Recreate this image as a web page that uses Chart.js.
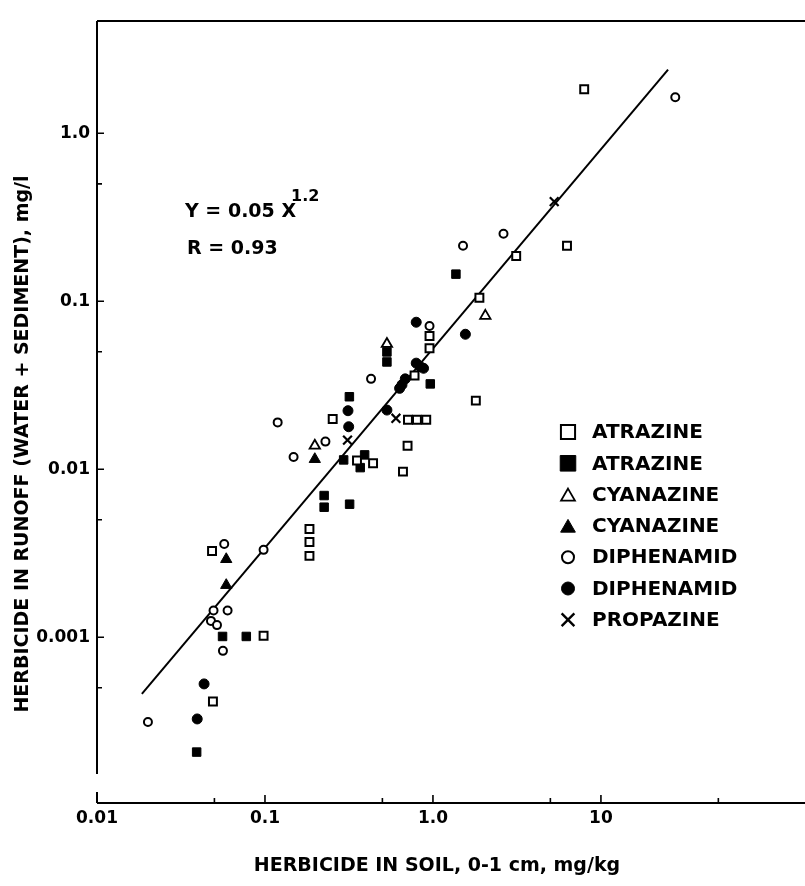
<!DOCTYPE html>
<html>
<head>
<meta charset="utf-8">
<script src="https://cdn.jsdelivr.net/npm/chart.js@4/dist/chart.umd.min.js"></script>
<style>
  html, body { margin: 0; padding: 0; background: #fff; }
  #wrap { width: 805px; height: 886px; position: relative; }
</style>
</head>
<body>
<div id="wrap"><canvas id="c" width="805" height="886"></canvas></div>
<script>
// Herbicide in runoff vs herbicide in soil (log-log)

const seriesNames = ['ATRAZINE', 'ATRAZINE', 'CYANAZINE', 'CYANAZINE', 'DIPHENAMID', 'DIPHENAMID', 'PROPAZINE'];

// Atrazine, open squares
const atrazineOpenX = [0.0484, 0.0981, 0.0490, 0.253, 0.353, 0.440, 0.184, 0.184, 0.184, 0.954, 0.954, 0.777, 1.80, 0.710, 0.803, 0.912, 0.706, 0.663, 7.95, 6.28, 3.13, 1.89];
const atrazineOpenY = [0.00326, 0.00102, 0.000414, 0.0199, 0.01126, 0.01086, 0.00441, 0.00369, 0.00305, 0.0621, 0.0525, 0.0361, 0.0256, 0.0197, 0.0197, 0.0197, 0.0138, 0.00968, 1.83, 0.214, 0.186, 0.105];

// Atrazine, filled squares
const atrazineFillX = [0.0559, 0.0774, 0.0392, 0.318, 0.294, 0.392, 0.369, 0.225, 0.225, 0.319, 0.532, 0.532, 1.37, 0.964];
const atrazineFillY = [0.00101, 0.00101, 0.000207, 0.0270, 0.01136, 0.01217, 0.01022, 0.00697, 0.00594, 0.00619, 0.0499, 0.0435, 0.145, 0.0322];

// Cyanazine, open triangles
const cyanazineOpenX = [0.198, 0.532, 2.05];
const cyanazineOpenY = [0.0138, 0.0557, 0.0818];

// Cyanazine, filled triangles
const cyanazineFillX = [0.0588, 0.0588, 0.198];
const cyanazineFillY = [0.00291, 0.00204, 0.01147];

// Diphenamid, open circles
const diphenamidOpenX = [0.0572, 0.0981, 0.0494, 0.0599, 0.0477, 0.0518, 0.0562, 0.0201, 0.119, 0.229, 0.148, 0.428, 0.954, 27.7, 2.63, 1.51];
const diphenamidOpenY = [0.00359, 0.00331, 0.00144, 0.00144, 0.00125, 0.00118, 0.000829, 0.000313, 0.0190, 0.0146, 0.01183, 0.0345, 0.0713, 1.64, 0.252, 0.214];

// Diphenamid, filled circles
const diphenamidFillX = [0.0434, 0.0395, 0.312, 0.315, 0.795, 1.56, 0.795, 0.840, 0.879, 0.684, 0.654, 0.633, 0.532];
const diphenamidFillY = [0.000527, 0.000326, 0.0223, 0.0179, 0.0750, 0.0636, 0.0428, 0.0408, 0.0399, 0.0345, 0.0318, 0.0303, 0.0225];

// Propazine, crosses
const propazineX = [0.310, 0.602, 5.27];
const propazineY = [0.0149, 0.0201, 0.392];

// Regression line end points: Y = 0.05 X^1.2
const fitX = [0.0185, 25.1];
const fitY = [0.00046, 2.39];

// Axis ticks
const xMajorTicks = [0.01, 0.1, 1, 10];
const xMajorLabels = ['0.01', '0.1', '1.0', '10'];
const xMinorTicks = [0.05, 0.5, 5, 50];
const yMajorTicks = [0.001, 0.01, 0.1, 1];
const yMajorLabels = ['0.001', '0.01', '0.1', '1.0'];
const yMinorTicks = [0.0005, 0.005, 0.05, 0.5];

const xTitle = 'HERBICIDE IN SOIL, 0-1 cm, mg/kg';
const yTitle = 'HERBICIDE IN RUNOFF (WATER + SEDIMENT), mg/l';
const eqMain = 'Y = 0.05 X';
const eqPower = '1.2';
const eqR = 'R = 0.93';

const FONT = '"DejaVu Sans", "Liberation Sans", sans-serif';

function pts(xs, ys) { return xs.map((x, i) => ({ x: x, y: ys[i] })); }

const markerStyles = [
  { pointStyle: 'rect', radius: 5.6, fill: '#fff', border: 2 },
  { pointStyle: 'rect', radius: 6.0, fill: '#000', border: 1 },
  { pointStyle: 'triangle', radius: 6.0, fill: '#fff', border: 1.8 },
  { pointStyle: 'triangle', radius: 6.5, fill: '#000', border: 1 },
  { pointStyle: 'circle', radius: 4.0, fill: '#fff', border: 2 },
  { pointStyle: 'circle', radius: 5.0, fill: '#000', border: 1 },
  { pointStyle: 'crossRot', radius: 6.2, fill: '#000', border: 2.2 }
];

const seriesData = [
  pts(atrazineOpenX, atrazineOpenY),
  pts(atrazineFillX, atrazineFillY),
  pts(cyanazineOpenX, cyanazineOpenY),
  pts(cyanazineFillX, cyanazineFillY),
  pts(diphenamidOpenX, diphenamidOpenY),
  pts(diphenamidFillX, diphenamidFillY),
  pts(propazineX, propazineY)
];

const datasets = seriesData.map((d, i) => ({
  label: seriesNames[i],
  data: d,
  showLine: false,
  pointStyle: markerStyles[i].pointStyle,
  pointRadius: markerStyles[i].radius,
  pointBackgroundColor: markerStyles[i].fill,
  pointBorderColor: '#000',
  pointBorderWidth: markerStyles[i].border,
  order: 1
}));

datasets.unshift({
  label: 'fit',
  data: pts(fitX, fitY),
  showLine: true,
  borderColor: '#000',
  borderWidth: 2,
  pointRadius: 0,
  fill: false,
  order: 10
});

// Axes frame, inward ticks, titles, equation and key
const decorations = {
  id: 'decorations',
  afterDraw(chart) {
    const ctx = chart.ctx;
    const xs = chart.scales.x, ys = chart.scales.y;
    const a = chart.chartArea;
    ctx.save();
    ctx.strokeStyle = '#000';
    ctx.fillStyle = '#000';
    ctx.lineCap = 'butt';

    // frame lines
    ctx.lineWidth = 2;
    ctx.beginPath();
    ctx.moveTo(a.left, a.top); ctx.lineTo(a.right, a.top);
    ctx.moveTo(a.left, a.bottom); ctx.lineTo(a.right, a.bottom);
    ctx.moveTo(a.left, a.top); ctx.lineTo(a.left, a.bottom - 29);
    ctx.moveTo(a.left, a.bottom - 11); ctx.lineTo(a.left, a.bottom);
    ctx.stroke();

    // x ticks pointing up
    ctx.lineWidth = 1.6;
    ctx.beginPath();
    xMajorTicks.forEach(v => { const p = xs.getPixelForValue(v); ctx.moveTo(p, a.bottom); ctx.lineTo(p, a.bottom - 8); });
    xMinorTicks.forEach(v => { const p = xs.getPixelForValue(v); ctx.moveTo(p, a.bottom); ctx.lineTo(p, a.bottom - 5); });
    // y ticks pointing right
    yMajorTicks.forEach(v => { const p = ys.getPixelForValue(v); ctx.moveTo(a.left, p); ctx.lineTo(a.left + 7, p); });
    yMinorTicks.forEach(v => { const p = ys.getPixelForValue(v); ctx.moveTo(a.left, p); ctx.lineTo(a.left + 5, p); });
    ctx.stroke();

    // axis titles
    ctx.font = 'bold 19px ' + FONT;
    ctx.textAlign = 'center';
    ctx.textBaseline = 'middle';
    ctx.fillText(xTitle, 437, 866);
    ctx.save();
    ctx.translate(23, 444);
    ctx.rotate(-Math.PI / 2);
    ctx.fillText(yTitle, 0, 0);
    ctx.restore();

    // regression equation
    ctx.textAlign = 'left';
    ctx.textBaseline = 'alphabetic';
    ctx.font = 'bold 19px ' + FONT;
    ctx.fillText(eqMain, 185, 217);
    ctx.font = 'bold 16px ' + FONT;
    ctx.fillText(eqPower, 291, 201);
    ctx.font = 'bold 19px ' + FONT;
    ctx.fillText(eqR, 187, 254);

    // key
    const kx = 568, tx = 592, ky0 = 432, kstep = 31.3;
    const keySizes = [
      { pointStyle: 'rect', radius: 10, fill: '#fff', border: 2 },
      { pointStyle: 'rect', radius: 11, fill: '#000', border: 1 },
      { pointStyle: 'triangle', radius: 8, fill: '#fff', border: 1.8 },
      { pointStyle: 'triangle', radius: 8.5, fill: '#000', border: 1 },
      { pointStyle: 'circle', radius: 6, fill: '#fff', border: 2 },
      { pointStyle: 'circle', radius: 6.5, fill: '#000', border: 1 },
      { pointStyle: 'crossRot', radius: 9, fill: '#000', border: 2.4 }
    ];
    ctx.font = 'bold 20px ' + FONT;
    ctx.textBaseline = 'middle';
    seriesNames.forEach((name, i) => {
      const y = ky0 + i * kstep;
      const m = keySizes[i];
      ctx.fillStyle = m.fill;
      ctx.strokeStyle = '#000';
      ctx.lineWidth = m.border;
      Chart.helpers.drawPoint(ctx, { pointStyle: m.pointStyle, radius: m.radius, borderWidth: m.border, rotation: 0 }, kx, m.pointStyle === 'triangle' ? y + 2 : y);
      ctx.fillStyle = '#000';
      ctx.fillText(name, tx, y + 1);
    });
    ctx.restore();
  }
};

new Chart(document.getElementById('c'), {
  type: 'scatter',
  data: { datasets: datasets },
  options: {
    responsive: false,
    animation: false,
    events: [],
    layout: { autoPadding: false, padding: { top: 21, right: 0, left: 0, bottom: 0 } },
    plugins: { legend: { display: false }, tooltip: { enabled: false } },
    scales: {
      x: {
        type: 'logarithmic',
        min: 0.01,
        max: 164,
        grid: { display: false, drawTicks: false },
        border: { display: false },
        afterBuildTicks: s => { s.ticks = xMajorTicks.concat(xMinorTicks).sort((p, q) => p - q).map(v => ({ value: v })); },
        afterFit: s => { s.height = 83; s.paddingLeft = 0; s.paddingRight = 0; },
        ticks: {
          autoSkip: false, maxRotation: 0, padding: 5, color: '#000',
          font: { family: FONT, size: 17, weight: 'bold' },
          callback: v => { const i = xMajorTicks.indexOf(v); return i >= 0 ? xMajorLabels[i] : ''; }
        }
      },
      y: {
        type: 'logarithmic',
        min: 0.000103,
        max: 4.66,
        grid: { display: false, drawTicks: false },
        border: { display: false },
        afterBuildTicks: s => { s.ticks = yMajorTicks.concat(yMinorTicks).sort((p, q) => p - q).map(v => ({ value: v })); },
        afterFit: s => { s.width = 97; s.paddingTop = 0; s.paddingBottom = 0; },
        ticks: {
          autoSkip: false, padding: 7, color: '#000',
          font: { family: FONT, size: 17, weight: 'bold' },
          callback: v => { const i = yMajorTicks.indexOf(v); return i >= 0 ? yMajorLabels[i] : ''; }
        }
      }
    }
  },
  plugins: [decorations]
});
</script>
</body>
</html>
